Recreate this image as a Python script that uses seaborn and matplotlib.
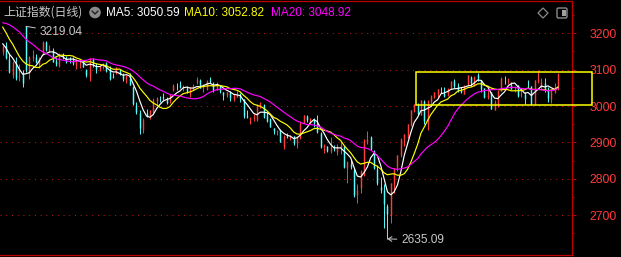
import numpy as np
import pandas as pd
import matplotlib
matplotlib.use("Agg")
import matplotlib.pyplot as plt
import seaborn as sns
from matplotlib.patches import Rectangle, Circle, FancyBboxPatch, Polygon
from matplotlib.lines import Line2D

# ---------------- data (SSE Composite, daily) ----------------
# 19 closes before the first visible day (needed for the moving averages)
prefix_close = [3167.75, 3164.16, 3231.52, 3223.13, 3216.67, 3275.93, 3291.04, 3290.95,
                3261.69, 3280.46, 3288.08, 3268.83, 3260.62, 3244.49, 3254.56, 3189.25,
                3178.43, 3176.18, 3150.13]

opens = [
    3148, 3165, 3130, 3085, 3118, 3080, 3090, 3219.04, 3090, 3132,
    3135, 3115, 3145, 3175, 3150, 3154, 3123, 3110, 3143, 3133,
    3128, 3125, 3113, 3122, 3124, 3100, 3080, 3130, 3110, 3100,
    3107, 3119, 3101, 3084, 3090, 3099, 3086, 3072, 3082, 3052,
    3002, 2980, 2935, 2980, 2970, 2985, 3015, 3020, 3024, 3019,
    3013, 3045, 3058, 3058, 3050, 3050, 3037, 3048, 3066, 3071,
    3049, 3048, 3071, 3063, 3045, 3058, 3038, 3030, 3040, 3020,
    3026, 3032, 3019, 2972, 2965, 2966, 2963, 3003, 3004, 2975,
    2964, 2939, 2928, 2935, 2890, 2919, 2914, 2918, 2899, 2913,
    2954, 2972, 2957, 2965, 2951, 2926, 2887, 2890, 2876, 2886,
    2873, 2887, 2890, 2829, 2840, 2825, 2755, 2776, 2813, 2900,
    2916, 2876, 2827, 2779, 2770, 2725, 2701, 2786, 2834, 2865,
    2909, 2913, 2948, 2986, 2999, 2975, 3015, 2950, 3010, 3025,
    3034, 3040, 3037, 3030, 3050, 3068, 3056, 3043, 3033, 3060,
    3079, 3057, 3086, 3071, 3049, 3025, 3038, 2989, 3003, 3042,
    3075, 3068, 3058, 3046, 3057, 3030, 3034, 3059, 3055, 3007,
    3070, 3052, 3063, 3048, 3020, 3040, 3053]

highs = [
    3168, 3176, 3146, 3125, 3135, 3116, 3100, 3219.04, 3137, 3154,
    3143, 3135, 3178, 3178, 3167, 3160, 3134, 3145, 3147, 3137,
    3134, 3134, 3128, 3126, 3124, 3102, 3133, 3131, 3117, 3111,
    3117, 3122, 3110, 3092, 3108, 3103, 3090, 3086, 3091, 3055,
    3011, 2988, 2968, 2992, 2990, 3021, 3025, 3027, 3035, 3026,
    3032, 3060, 3063, 3070, 3057, 3054, 3052, 3061, 3080, 3074,
    3060, 3071, 3081, 3067, 3065, 3059, 3040, 3040, 3041, 3032,
    3041, 3035, 3020, 2990, 2970, 2978, 3007, 3010, 3007, 2985,
    2967, 2941, 2934, 2936, 2920, 2926, 2921, 2919, 2916, 2959,
    2976, 2976, 2968, 2966, 2975, 2930, 2896, 2891, 2915, 2892,
    2897, 2900, 2891, 2850, 2851, 2830, 2785, 2825, 2910, 2931,
    2918, 2878, 2838, 2805, 2786, 2732, 2790, 2830, 2866, 2912,
    2923, 2951, 2990, 3007, 3008, 3016, 3017, 3016, 3030, 3040,
    3048, 3053, 3052, 3049, 3069, 3074, 3063, 3052, 3057, 3085,
    3082, 3082, 3091, 3073, 3050, 3047, 3039, 3017, 3043, 3080,
    3083, 3077, 3065, 3056, 3059, 3049, 3038, 3072, 3056, 3072,
    3100, 3077, 3076, 3052, 3047, 3063, 3092]

lows = [
    3140, 3128, 3091, 3078, 3072, 3070, 3053, 3095, 3075, 3125,
    3117, 3104, 3140, 3151, 3148, 3120, 3111, 3108, 3130, 3118,
    3119, 3114, 3103, 3104, 3107, 3080, 3070, 3107, 3091, 3097,
    3101, 3093, 3073, 3076, 3088, 3086, 3070, 3064, 3058, 3003,
    2979, 2923, 2925, 2971, 2965, 2981, 3002, 3011, 3018, 3006,
    3008, 3042, 3045, 3049, 3041, 3036, 3026, 3043, 3062, 3050,
    3038, 3043, 3063, 3040, 3043, 3037, 3018, 3024, 3015, 3015,
    3024, 3010, 2966, 2966, 2952, 2958, 2960, 2995, 2966, 2957,
    2942, 2924, 2921, 2900, 2882, 2911, 2906, 2893, 2884, 2910,
    2953, 2956, 2952, 2943, 2925, 2885, 2871, 2874, 2872, 2876,
    2865, 2867, 2830, 2788, 2827, 2751, 2735, 2760, 2807, 2895,
    2878, 2827, 2782, 2762, 2666, 2635.09, 2679, 2760, 2823, 2860,
    2890, 2913, 2945, 2983, 2976, 2975, 2950, 2933, 3001, 3021,
    3021, 3035, 3026, 3029, 3046, 3051, 3038, 3036, 3033, 3059,
    3054, 3055, 3070, 3039, 3023, 3020, 2992, 2989, 2997, 3042,
    3061, 3060, 3046, 3038, 3026, 3026, 3007, 3050, 3003, 3004,
    3063, 3048, 3040, 3012, 3009, 3036, 3045]

closes = [
    3163.74, 3131.95, 3092.98, 3120.33, 3078.40, 3082.24, 3064.07, 3098.64, 3135.89, 3137.14,
    3119.88, 3133.25, 3177.06, 3154.37, 3158.08, 3122.35, 3116.72, 3142.78, 3137.06, 3122.35,
    3126.55, 3117.74, 3125.93, 3124.25, 3108.57, 3084.70, 3132.43, 3115.61, 3102.27, 3107.32,
    3110.48, 3096.92, 3075.24, 3078.96, 3107.90, 3088.10, 3073.81, 3083.50, 3058.71, 3005.39,
    2983.06, 2939.29, 2962.24, 2974.10, 2988.30, 3017.78, 3021.55, 3018.77, 3023.08, 3009.41,
    3030.80, 3058.41, 3057.27, 3052.37, 3053.28, 3038.97, 3046.53, 3056.07, 3072.83, 3050.93,
    3054.37, 3068.32, 3067.93, 3043.61, 3061.86, 3040.97, 3031.70, 3038.55, 3021.69, 3029.67,
    3031.64, 3022.91, 2972.30, 2968.93, 2966.21, 2969.56, 3003.45, 3008.15, 2968.76, 2958.99,
    2942.56, 2930.80, 2932.39, 2902.11, 2918.72, 2914.78, 2918.81, 2898.87, 2914.61, 2954.70,
    2974.93, 2962.28, 2967.25, 2954.35, 2929.18, 2887.54, 2893.25, 2877.70, 2886.65, 2881.98,
    2886.29, 2893.99, 2833.62, 2845.78, 2832.28, 2756.34, 2770.74, 2820.77, 2906.11, 2910.22,
    2883.36, 2830.53, 2788.55, 2770.74, 2730.15, 2702.19, 2789.49, 2829.70, 2865.90, 2910.54,
    2922.73, 2950.96, 2988.36, 3004.88, 2977.02, 3015.48, 2957.85, 3015.17, 3027.02, 3039.31,
    3047.79, 3039.93, 3027.40, 3046.02, 3068.46, 3055.94, 3043.83, 3038.23, 3054.64, 3084.93,
    3062.76, 3079.69, 3077.11, 3048.03, 3026.31, 3031.48, 2993.14, 3010.66, 3041.17, 3077.38,
    3074.96, 3069.30, 3047.05, 3048.54, 3027.34, 3034.25, 3019.47, 3057.38, 3007.07, 3071.38,
    3074.22, 3065.26, 3044.60, 3021.98, 3044.82, 3052.90, 3088.64]

title_text = "上证指数(日线)"
ma_windows = [5, 10, 20]
ma_labels = ["MA5: 3050.59", "MA10: 3052.82", "MA20: 3048.92"]
high_label = "3219.04"
low_label = "2635.09"
y_ticks = [2700, 2800, 2900, 3000, 3100, 3200]
y_minor = [2650, 2750, 2850, 2950, 3050, 3150, 3250]
box_start, box_end = 123.4, 176.0     # candle-index span of the highlighted box
box_low, box_high = 3002, 3093

# ---------------- style ----------------
UP = "#FF3C3C"
DOWN = "#54FCFC"
AXIS_RED = "#C00000"
LABEL_RED = "#FF3A3A"
GRID_RED = "#B01818"
GREY = "#C8C8C8"
MA_COLORS = ["#FFFFFF", "#FFFF00", "#FF00FF"]

sns.set_style("dark", {"axes.facecolor": "black", "figure.facecolor": "black"})
plt.rcParams["font.family"] = ["Liberation Sans", "Noto Sans CJK SC", "DejaVu Sans"]

W, H = 621, 257
fig = plt.figure(figsize=(W / 100, H / 100), dpi=100, facecolor="black")
ax = fig.add_axes([0, 2 / H, 571.5 / W, 254 / H])
ax.set_facecolor("black")

n = len(closes)
idx = np.arange(n)
df = pd.DataFrame({"idx": idx, "open": opens, "high": highs, "low": lows, "close": closes})
all_close = pd.Series(prefix_close + closes)
for w in ma_windows:
    df[f"MA{w}"] = all_close.rolling(w).mean().iloc[len(prefix_close):].to_numpy()

# grid
for yt in y_ticks:
    ax.axhline(yt, color=GRID_RED, lw=0.75, ls=(0, (1, 4.5)), zorder=1)

# candles
cols = np.where(df["close"] >= df["open"], UP, DOWN)
ax.vlines(df["idx"], df["low"], df["high"], colors=cols, lw=0.7, zorder=2)
ax.vlines(df["idx"], np.minimum(df["open"], df["close"]), np.maximum(df["open"], df["close"]),
          colors=cols, lw=1.05, zorder=2)

# moving averages
for w, c in zip(ma_windows, MA_COLORS):
    sns.lineplot(data=df, x="idx", y=f"MA{w}", color=c, lw=0.85, ax=ax, legend=False, zorder=3)

# highlighted box
ax.add_patch(Rectangle((box_start, box_low), box_end - box_start, box_high - box_low,
                       fill=False, edgecolor="#FFFF00", lw=1.1, clip_on=False, zorder=4))

# axes limits & spines
ax.set_xlim(-0.78, 170.0)
ax.set_ylim(2590.9, 3288.7)
ax.set_xlabel("")
ax.set_ylabel("")
ax.set_xticks([])
ax.yaxis.tick_right()
ax.set_yticks(y_ticks)
ax.set_yticks(y_minor, minor=True)
ax.set_yticklabels([str(t) for t in y_ticks])
ax.tick_params(axis="y", which="major", direction="out", length=3.1, width=0.75,
               color=AXIS_RED, labelcolor=LABEL_RED, labelsize=8.8, pad=10)
ax.tick_params(axis="y", which="minor", direction="out", length=1.7, width=0.75,
               color=AXIS_RED)
ax.grid(False)
for side in ["top", "bottom", "right"]:
    ax.spines[side].set_visible(True)
    ax.spines[side].set_color(AXIS_RED)
    ax.spines[side].set_linewidth(0.9)
ax.spines["left"].set_visible(False)

# extreme annotations
hi_i = int(np.argmax(highs))
lo_i = int(np.argmin(lows))
ax.annotate(high_label, xy=(hi_i, highs[hi_i]), xytext=(14, -6), textcoords="offset pixels",
            color=GREY, fontsize=8.6, va="center", ha="left",
            arrowprops=dict(arrowstyle="-", color=GREY, lw=0.7, shrinkA=1, shrinkB=0), zorder=5)
ax.annotate(low_label, xy=(lo_i, lows[lo_i]), xytext=(14, -1), textcoords="offset pixels",
            color=GREY, fontsize=8.6, va="center", ha="left",
            arrowprops=dict(arrowstyle="->,head_length=0.3,head_width=0.2", color=GREY, lw=0.7,
                            shrinkA=1, shrinkB=0), zorder=5)

# header
def px(x, y):
    return x / W, 1 - y / H

fig.text(*px(3, 12), title_text, color=GREY, fontsize=8.6, va="center", ha="left",
         family=["Noto Sans CJK SC", "DejaVu Sans"])
for (xl, lab, c) in zip([106, 184, 271], ma_labels, MA_COLORS):
    fig.text(*px(xl, 12.5), lab, color=c, fontsize=8.5, va="center", ha="left")

T = fig.dpi_scale_trans
def inch(x, y):
    return x / 100, (H - y) / 100

fig.add_artist(Circle(inch(95, 12.5), 5.8 / 100, transform=T, facecolor="#8A8A8A",
                      edgecolor="none"))
fig.add_artist(Line2D([v / 100 for v in (92, 95, 98)],
                      [(H - y) / 100 for y in (11, 14, 11)], transform=T,
                      color="#202020", lw=1.0))
fig.add_artist(Polygon([inch(538, 13), inch(543, 8), inch(548, 13), inch(543, 18)],
                       closed=True, fill=False, edgecolor="#8A8A8A", lw=0.9, transform=T))
fig.add_artist(FancyBboxPatch(inch(557, 18), 10 / 100, 10 / 100,
                              boxstyle="round,pad=0,rounding_size=0.015",
                              fill=False, edgecolor="#8A8A8A", lw=1.0, transform=T))
fig.add_artist(Rectangle(inch(562, 16), 3.5 / 100, 6 / 100, facecolor="#A0A0A0",
                         edgecolor="none", transform=T))

fig.savefig("out.png", dpi=100, facecolor="black")
